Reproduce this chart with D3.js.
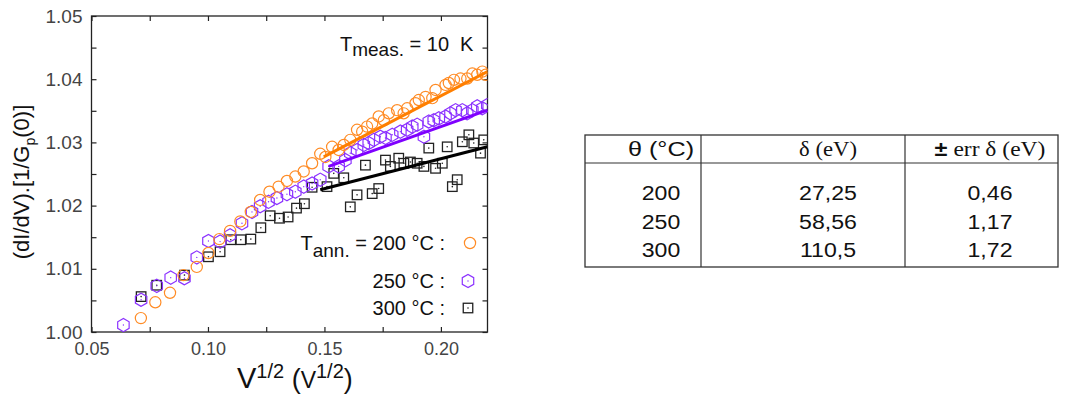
<!DOCTYPE html>
<html><head><meta charset="utf-8">
<script src="https://cdn.jsdelivr.net/npm/d3@7"></script>
<style>body{margin:0;background:#fff}svg{display:block}text{white-space:pre}</style>
</head><body>
<svg id="c" width="1068" height="394"></svg>
<script>
// ---------- data ----------
const xTicks = [0.05, 0.10, 0.15, 0.20];
const xMinor = [0.075, 0.125, 0.175];
const yTicks = [1.00, 1.01, 1.02, 1.03, 1.04, 1.05];
const yMinor = [1.005, 1.015, 1.025, 1.035, 1.045];

const pts200 = [[0.0712,1.0022],[0.0774,1.0047],[0.0837,1.0062],[0.0895,1.0090],[0.0952,1.0103],[0.1002,1.0125],[0.1049,1.0147],[0.1095,1.0160],[0.1139,1.0175],[0.1184,1.0190],[0.1224,1.0209],[0.1264,1.0222],[0.1303,1.0230],[0.1339,1.0239],[0.1375,1.0246],[0.1411,1.0254],[0.1447,1.0267],[0.1482,1.0282],[0.1504,1.0277],[0.1533,1.0293],[0.1561,1.0288],[0.1583,1.0296],[0.1611,1.0304],[0.1640,1.0320],[0.1662,1.0317],[0.1683,1.0325],[0.1705,1.0330],[0.1733,1.0341],[0.1755,1.0335],[0.1776,1.0346],[0.1812,1.0351],[0.1840,1.0346],[0.1855,1.0354],[0.1891,1.0362],[0.1905,1.0367],[0.1934,1.0372],[0.1963,1.0370],[0.1977,1.0383],[0.2020,1.0391],[0.2034,1.0394],[0.2056,1.0399],[0.2084,1.0401],[0.2113,1.0401],[0.2135,1.0409],[0.2156,1.0407],[0.2178,1.0412],[0.2192,1.0407]];
const pts250 = [[0.0637,1.0011],[0.0713,1.0051],[0.0780,1.0073],[0.0840,1.0086],[0.0899,1.0085],[0.0952,1.0118],[0.1002,1.0144],[0.1052,1.0143],[0.1095,1.0153],[0.1146,1.0172],[0.1189,1.0190],[0.1224,1.0199],[0.1260,1.0206],[0.1296,1.0212],[0.1339,1.0218],[0.1375,1.0222],[0.1411,1.0230],[0.1447,1.0235],[0.1482,1.0241],[0.1518,1.0262],[0.1561,1.0262],[0.1590,1.0272],[0.1611,1.0283],[0.1640,1.0288],[0.1669,1.0296],[0.1690,1.0299],[0.1712,1.0304],[0.1740,1.0309],[0.1762,1.0307],[0.1791,1.0312],[0.1826,1.0317],[0.1855,1.0320],[0.1877,1.0325],[0.1898,1.0328],[0.1927,1.0309],[0.1948,1.0333],[0.1969,1.0335],[0.1991,1.0338],[0.2020,1.0341],[0.2041,1.0346],[0.2063,1.0351],[0.2092,1.0351],[0.2113,1.0346],[0.2135,1.0351],[0.2156,1.0357],[0.2178,1.0354],[0.2199,1.0359]];
const pts300 = [[0.0713,1.0056],[0.0780,1.0074],[0.0899,1.0090],[0.1002,1.0119],[0.1052,1.0127],[0.1098,1.0146],[0.1141,1.0146],[0.1184,1.0147],[0.1227,1.0165],[0.1267,1.0184],[0.1307,1.0180],[0.1344,1.0182],[0.1380,1.0196],[0.1414,1.0203],[0.1447,1.0229],[0.1511,1.0230],[0.1540,1.0251],[0.1583,1.0244],[0.1611,1.0198],[0.1640,1.0217],[0.1676,1.0264],[0.1705,1.0219],[0.1733,1.0227],[0.1762,1.0272],[0.1783,1.0262],[0.1819,1.0275],[0.1841,1.0267],[0.1869,1.0269],[0.1898,1.0267],[0.1927,1.0262],[0.1948,1.0291],[0.1977,1.0259],[0.2006,1.0267],[0.2027,1.0293],[0.2049,1.0230],[0.2070,1.0241],[0.2092,1.0301],[0.2120,1.0312],[0.2141,1.0299],[0.2170,1.0283],[0.2184,1.0304]];

const fit200 = [[0.1497,1.0277],[0.22,1.0412]];
const fit250 = [[0.1518,1.0262],[0.22,1.0351]];
const fit300 = [[0.1482,1.0225],[0.22,1.0293]];

const legendLabels = ["200 °C :", "250 °C :", "300 °C :"];

const tableHeader = ["θ (°C)", "δ (eV)", "± err δ (eV)"];
const tableTheta = ["200", "250", "300"];
const tableDelta = ["27,25", "58,56", "110,5"];
const tableErr = ["0,46", "1,17", "1,72"];

// ---------- drawing ----------
const svg = d3.select("#c");
const SANS = "'Liberation Sans', Arial, sans-serif";
const SERIF = "'Liberation Serif', 'Times New Roman', serif";
const L = 91.5, R = 487.5, T = 16, B = 332;
const x = d3.scaleLinear([0.05, 0.22], [L, R]);
const y = d3.scaleLinear([1.00, 1.05], [B, T]);

const C200 = "#ff8c26", C250 = "#8c33ff", C300 = "#222";
const L200 = "#ff7f00", L250 = "#7f00ff", L300 = "#000";

function styleAxis(g, fs){
  g.select(".domain").remove();
  g.selectAll(".tick line").attr("stroke", "#222").attr("stroke-width", 1.2);
  g.selectAll(".tick text").attr("font-family", SANS).attr("font-size", fs).attr("fill", "#444");
}
svg.append("g").attr("transform", `translate(0,${B})`)
  .call(d3.axisBottom(x).tickValues(xTicks.concat(xMinor)).tickSizeInner(-5).tickSizeOuter(0).tickPadding(10)
    .tickFormat(d => xTicks.includes(d) ? d3.format(".2f")(d) : ""))
  .call(styleAxis, 18);
svg.append("g").attr("transform", `translate(0,${T})`)
  .call(d3.axisTop(x).tickValues(xTicks.concat(xMinor)).tickSizeInner(-5).tickSizeOuter(0).tickFormat(""))
  .call(styleAxis, 18);
svg.append("g").attr("transform", `translate(${L},0)`)
  .call(d3.axisLeft(y).tickValues(yTicks.concat(yMinor)).tickSizeInner(-5).tickSizeOuter(0).tickPadding(9)
    .tickFormat(d => yTicks.some(v => Math.abs(v - d) < 1e-9) ? d3.format(".2f")(d) : ""))
  .call(styleAxis, 19);
svg.append("g").attr("transform", `translate(${R},0)`)
  .call(d3.axisRight(y).tickValues(yTicks.concat(yMinor)).tickSizeInner(-5).tickSizeOuter(0).tickFormat(""))
  .call(styleAxis, 18);

svg.append("rect").attr("x", L).attr("y", T).attr("width", R - L).attr("height", B - T)
  .attr("fill", "none").attr("stroke", "#222").attr("stroke-width", 1.3);

const plot = svg.append("g");
svg.append("clipPath").attr("id", "clp").append("rect").attr("x", L).attr("y", T).attr("width", R - L).attr("height", B - T);
plot.attr("clip-path", "url(#clp)");

const hexPath = (r) => {
  const p = d3.path();
  for (let i = 0; i < 6; i++) {
    const a = Math.PI / 2 + i * Math.PI / 3;
    const px = r * Math.cos(a), py = r * Math.sin(a);
    if (i === 0) p.moveTo(px, py); else p.lineTo(px, py);
  }
  p.closePath();
  return p.toString();
};

function drawSquares(g, pts, cx, cy){
  const s = 9.5;
  const m = g.selectAll(null).data(pts).join("g").attr("transform", d => `translate(${cx(d)},${cy(d)})`);
  m.append("rect").attr("x", -s/2).attr("y", -s/2).attr("width", s).attr("height", s)
    .attr("fill", "none").attr("stroke", C300).attr("stroke-width", 1.3);
  m.append("circle").attr("r", 0.8).attr("fill", C300);
}
function drawHex(g, pts, cx, cy){
  const m = g.selectAll(null).data(pts).join("g").attr("transform", d => `translate(${cx(d)},${cy(d)})`);
  m.append("path").attr("d", hexPath(6.6)).attr("fill", "none").attr("stroke", C250).attr("stroke-width", 1.2);
  m.append("circle").attr("r", 0.7).attr("fill", C250);
}
function drawCircles(g, pts, cx, cy){
  const m = g.selectAll(null).data(pts).join("g").attr("transform", d => `translate(${cx(d)},${cy(d)})`);
  m.append("circle").attr("r", 5.6).attr("fill", "none").attr("stroke", C200).attr("stroke-width", 1.2);
}

const fx = d => x(d[0]), fy = d => y(d[1]);
drawSquares(plot.append("g"), pts300, fx, fy);
drawHex(plot.append("g"), pts250, fx, fy);
drawCircles(plot.append("g"), pts200, fx, fy);

const line = d3.line().x(fx).y(fy);
plot.append("path").attr("d", line(fit300)).attr("stroke", L300).attr("stroke-width", 3).attr("fill", "none");
plot.append("path").attr("d", line(fit250)).attr("stroke", L250).attr("stroke-width", 3).attr("fill", "none");
plot.append("path").attr("d", line(fit200)).attr("stroke", L200).attr("stroke-width", 3).attr("fill", "none");

// annotation T_meas
const tm = svg.append("text").attr("x", 340).attr("y", 51).attr("font-family", SANS).attr("font-size", 20).attr("fill", "#111");
tm.append("tspan").text("T");
tm.append("tspan").attr("dy", 5).attr("font-size", 19).text("meas.");
tm.append("tspan").attr("dy", -5).text(" = 10  K");

// legend
const lg = svg.append("g");
const ta = lg.append("text").attr("x", 445).attr("y", 250).attr("text-anchor", "end").attr("font-family", SANS).attr("font-size", 20).attr("fill", "#111");
ta.append("tspan").text("T");
ta.append("tspan").attr("dy", 7).attr("font-size", 19).text("ann.");
ta.append("tspan").attr("dy", -7).text(" = " + legendLabels[0]);
lg.append("text").attr("x", 445).attr("y", 288).attr("text-anchor", "end").attr("font-family", SANS).attr("font-size", 20).attr("fill", "#111").text(legendLabels[1]);
lg.append("text").attr("x", 445).attr("y", 315).attr("text-anchor", "end").attr("font-family", SANS).attr("font-size", 20).attr("fill", "#111").text(legendLabels[2]);
drawCircles(lg.append("g"), [[470, 243]], d => d[0], d => d[1]);
drawHex(lg.append("g"), [[468, 281]], d => d[0], d => d[1]);
drawSquares(lg.append("g"), [[468, 308]], d => d[0], d => d[1]);

// axis titles
const yt = svg.append("text").attr("transform", "translate(29,182) rotate(-90)").attr("text-anchor", "middle")
  .attr("font-family", SANS).attr("font-size", 22).attr("fill", "#111");
yt.append("tspan").text("(dI/dV).[1/G");
yt.append("tspan").attr("dy", 6).attr("font-size", 14).text("p");
yt.append("tspan").attr("dy", -6).text("(0)]");

const xt = svg.append("text").attr("x", 237).attr("y", 388).attr("font-family", SANS).attr("fill", "#111");
xt.append("tspan").attr("font-size", 29).text("V");
xt.append("tspan").attr("font-size", 20).attr("dy", -10).text("1/2");
xt.append("tspan").attr("font-size", 27).attr("dy", 10).text(" (");
xt.append("tspan").attr("font-size", 23).text("V");
xt.append("tspan").attr("font-size", 20).attr("dy", -10).text("1/2");
xt.append("tspan").attr("font-size", 27).attr("dy", 10).text(")");

// ---------- table ----------
const tb = svg.append("g");
const tL = 585, tR = 1058, tT = 135, tH = 163, tB = 267, c1 = 701, c2 = 905;
tb.append("rect").attr("x", tL).attr("y", tT).attr("width", tR - tL).attr("height", tB - tT)
  .attr("fill", "none").attr("stroke", "#333").attr("stroke-width", 1.3);
tb.append("line").attr("x1", tL).attr("x2", tR).attr("y1", tH).attr("y2", tH).attr("stroke", "#333").attr("stroke-width", 1.2);
[c1, c2].forEach(cx => tb.append("line").attr("x1", cx).attr("x2", cx).attr("y1", tT).attr("y2", tB).attr("stroke", "#333").attr("stroke-width", 1.2));
const colX = [661, 828, 990];
const stretched = (px, py, sx) => `translate(${px},${py}) scale(${sx},1)`;
tb.append("text").attr("transform", stretched(colX[0], 156, 1.2)).attr("text-anchor", "middle").attr("font-family", SANS).attr("font-size", 21).attr("fill", "#111").text(tableHeader[0]);
tb.append("text").attr("transform", stretched(colX[1], 156, 1.08)).attr("text-anchor", "middle").attr("font-family", SERIF).attr("font-size", 21).attr("fill", "#111").text(tableHeader[1]);
const h3 = tb.append("text").attr("transform", stretched(colX[2], 156, 1.12)).attr("text-anchor", "middle").attr("font-family", SERIF).attr("font-size", 21).attr("fill", "#111");
h3.append("tspan").attr("font-family", SANS).attr("font-weight", "bold").text(tableHeader[2].slice(0, 1));
h3.append("tspan").text(tableHeader[2].slice(1));
const rowY = [200, 229, 257];
[tableTheta, tableDelta, tableErr].forEach((col, ci) => {
  col.forEach((v, ri) => {
    tb.append("text").attr("transform", stretched(colX[ci], rowY[ri], 1.1)).attr("text-anchor", "middle")
      .attr("font-family", SANS).attr("font-size", 21).attr("fill", "#111").text(v);
  });
});
</script>
</body></html>
